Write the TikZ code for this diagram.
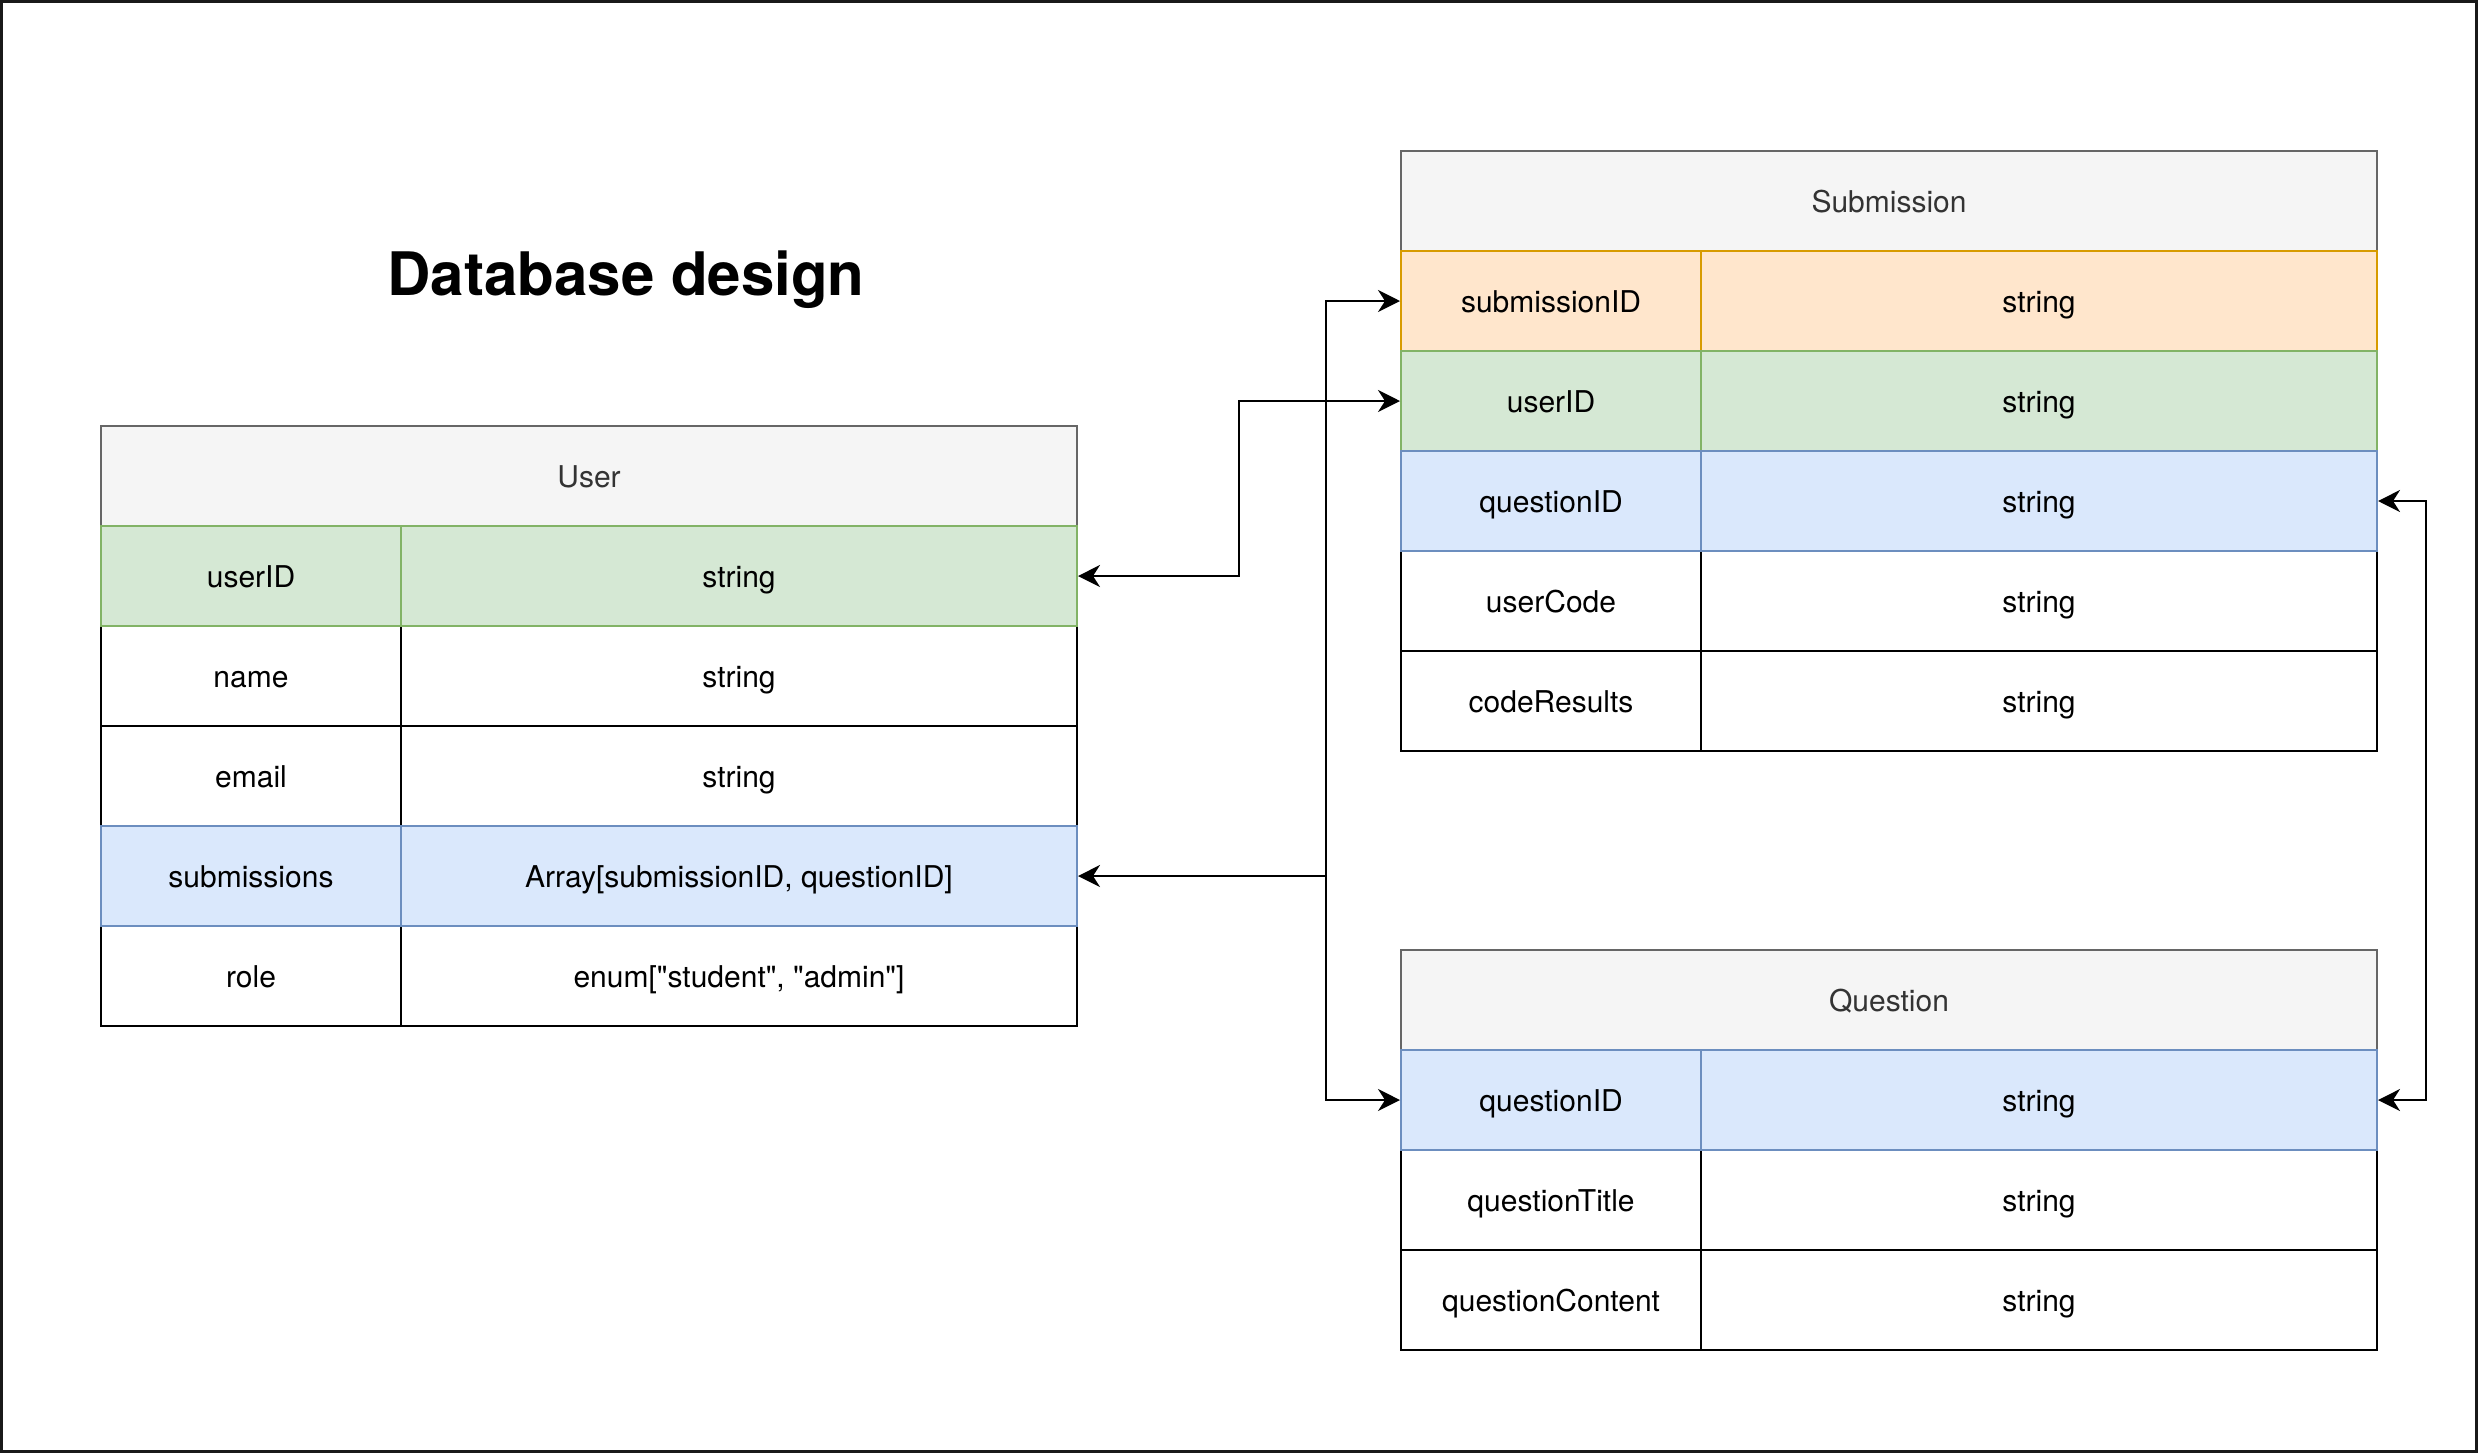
\documentclass[tikz,border=0pt]{standalone}
\usepackage{fontspec}
\setmainfont{TeX Gyre Heros}
\usetikzlibrary{arrows.meta}
\definecolor{hdrfill}{HTML}{F5F5F5}
\definecolor{hdrline}{HTML}{666666}
\definecolor{hdrtext}{HTML}{333333}
\definecolor{grnfill}{HTML}{D5E8D4}
\definecolor{grnline}{HTML}{82B366}
\definecolor{blufill}{HTML}{DAE8FC}
\definecolor{bluline}{HTML}{6C8EBF}
\definecolor{orgfill}{HTML}{FFE6CC}
\definecolor{orgline}{HTML}{D79B00}
\tikzset{
  cell/.style={rectangle, inner sep=0pt, line width=1pt, minimum height=50pt,
    font=\fontsize{15}{18}\selectfont, text height=11.3pt, text depth=0pt},
  keycell/.style={cell, minimum width=150pt},
  valcell/.style={cell, minimum width=338pt},
  hdrcell/.style={cell, minimum width=488pt, fill=hdrfill, draw=hdrline, text=hdrtext},
  wht/.style={fill=white, draw=black},
  grn/.style={fill=grnfill, draw=grnline},
  blu/.style={fill=blufill, draw=bluline},
  org/.style={fill=orgfill, draw=orgline},
  conn/.style={draw=black, line width=1.1pt,
    arrows={Stealth[length=11pt, width=11pt, inset=3.5pt]-Stealth[length=11pt, width=11pt, inset=3.5pt]}},
  conn1/.style={draw=black, line width=1.1pt,
    -{Stealth[length=11pt, width=11pt, inset=3.5pt]}},
  title/.style={font=\fontsize{30}{36}\selectfont\bfseries, inner sep=0pt, anchor=base}
}
\begin{document}
\begin{tikzpicture}[x=0.5pt, y=-0.5pt]
\useasboundingbox (0,0) rectangle (2478,1453);
\draw[line width=1.25pt, draw=black!90] (1.5,1.5) rectangle (2476.5,1451.5);

\node[title] (ttl) at (626,295) {Database design};

% User table
\node[hdrcell] (uHdr) at (589,476) {User};
\node[keycell, wht] (uName) at (251,676) {name};
\node[valcell, wht] (uNameT) at (739,676) {string};
\node[keycell, wht] (uEmail) at (251,776) {email};
\node[valcell, wht] (uEmailT) at (739,776) {string};
\node[keycell, wht] (uRole) at (251,976) {role};
\node[valcell, wht] (uRoleT) at (739,976) {enum[\textquotedbl student\textquotedbl, \textquotedbl admin\textquotedbl]};
\node[keycell, grn] (uUid) at (251,576) {userID};
\node[valcell, grn] (uUidT) at (739,576) {string};
\node[keycell, blu] (uSub) at (251,876) {submissions};
\node[valcell, blu] (uSubT) at (739,876) {Array[submissionID, questionID]};

% Submission table
\node[hdrcell] (sHdr) at (1889,201) {Submission};
\node[keycell, wht] (sCode) at (1551,601) {userCode};
\node[valcell, wht] (sCodeT) at (2039,601) {string};
\node[keycell, wht] (sRes) at (1551,701) {codeResults};
\node[valcell, wht] (sResT) at (2039,701) {string};
\node[keycell, org] (sSid) at (1551,301) {submissionID};
\node[valcell, org] (sSidT) at (2039,301) {string};
\node[keycell, grn] (sUid) at (1551,401) {userID};
\node[valcell, grn] (sUidT) at (2039,401) {string};
\node[keycell, blu] (sQid) at (1551,501) {questionID};
\node[valcell, blu] (sQidT) at (2039,501) {string};

% Question table
\node[hdrcell] (qHdr) at (1889,1000) {Question};
\node[keycell, wht] (qTitle) at (1551,1200) {questionTitle};
\node[valcell, wht] (qTitleT) at (2039,1200) {string};
\node[keycell, wht] (qCont) at (1551,1300) {questionContent};
\node[valcell, wht] (qContT) at (2039,1300) {string};
\node[keycell, blu] (qQid) at (1551,1100) {questionID};
\node[valcell, blu] (qQidT) at (2039,1100) {string};

% junction columns
\coordinate (j1) at (1239,0);
\coordinate (j2) at (1326,0);
\coordinate (j3) at (2426,0);

% connectors
\draw[conn] (uUidT.east) -- (uUidT.east -| j1) -- (sUid.west -| j1) -- (sUid.west);
\draw[conn] (uSubT.east) -- (uSubT.east -| j2) -- (sSid.west -| j2) -- (sSid.west);
\draw[conn1] (uSubT.east -| j2) -- (qQid.west -| j2) -- (qQid.west);
\draw[conn] (sQidT.east) -- (sQidT.east -| j3) -- (qQidT.east -| j3) -- (qQidT.east);
\end{tikzpicture}
\end{document}
